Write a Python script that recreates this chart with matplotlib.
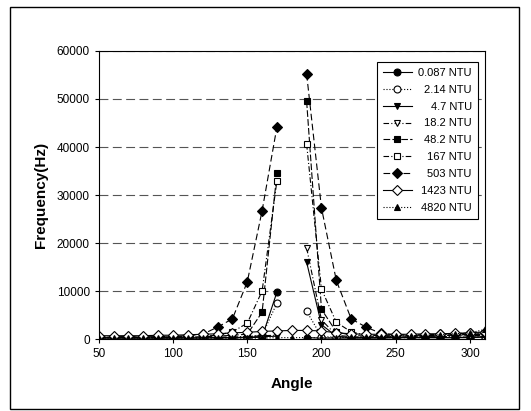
import numpy as np
import matplotlib; matplotlib.use("Agg")
import matplotlib.pyplot as plt
from matplotlib.patches import Rectangle

plt.rcParams["font.family"] = ["Liberation Sans", "DejaVu Sans"]

nan = np.nan
angle = list(range(50, 320, 10))  # 50 .. 310
# Frequency (Hz) per turbidity level; 180 deg missing for the peaked series
f_0087 = [300, 250, 250, 250, 250, 250, 250, 250, 250, 250, 300, 400, 9800, nan, 300, 200, 200, 200, 200, 200, 300, 300, 300, 300, 300, 300, 400]
f_214 = [300, 300, 300, 300, 300, 300, 300, 300, 300, 400, 500, 800, 7500, nan, 5800, 500, 400, 300, 300, 300, 300, 300, 300, 400, 400, 400, 500]
f_47 = [200, 200, 200, 200, 200, 200, 200, 200, 300, 300, 400, 500, 600, nan, 16000, 3000, 600, 300, 300, 300, 300, 300, 300, 300, 300, 400, 500]
f_182 = [300, 300, 300, 300, 300, 300, 300, 300, 400, 400, 500, 700, 800, nan, 19000, 4000, 800, 500, 400, 400, 400, 400, 500, 500, 600, 700, 800]
f_482 = [400, 400, 400, 400, 400, 400, 400, 500, 600, 800, 1000, 5600, 34500, nan, 49500, 6200, 1500, 800, 600, 600, 600, 600, 600, 700, 800, 900, 1000]
f_167 = [400, 400, 400, 400, 400, 500, 500, 600, 800, 1500, 3300, 10000, 33000, nan, 40600, 10400, 3500, 1500, 800, 700, 700, 700, 700, 800, 900, 1000, 1200]
f_503 = [500, 500, 500, 500, 500, 600, 700, 1000, 2500, 4200, 11900, 26700, 44200, nan, 55200, 27300, 12200, 4200, 2500, 1200, 900, 900, 900, 1000, 1100, 1200, 1300]
f_1423 = [700, 700, 700, 700, 800, 800, 900, 1000, 1100, 1300, 1400, 1600, 1700, 1800, 1800, 1700, 1300, 1100, 1000, 1000, 1000, 1000, 1100, 1100, 1200, 1300, 1500]
f_4820 = [200, 200, 200, 200, 200, 200, 200, 200, 200, 200, 200, 200, 300, 300, 300, 300, 300, 400, 400, 500, 600, 700, 800, 900, 1100, 1300, 2000]

labels = ["0.087 NTU", "2.14 NTU", "4.7 NTU", "18.2 NTU", "48.2 NTU",
          "167 NTU", "503 NTU", "1423 NTU", "4820 NTU"]
series = [f_0087, f_214, f_47, f_182, f_482, f_167, f_503, f_1423, f_4820]
markers = ["o", "o", "v", "v", "s", "s", "D", "D", "^"]
filled = [True, False, True, False, True, False, True, False, True]
styles = ["-", ":", "-", (0, (5, 2, 1, 2)), (0, (6, 2)), (0, (5, 2, 1, 2)),
          (0, (6, 3)), "-", ":"]

fig = plt.figure(figsize=(5.31, 4.11), dpi=100)
ax = fig.add_axes([0.186, 0.175, 0.727, 0.701])

for y, lab, m, f, ls in zip(series, labels, markers, filled, styles):
    ax.plot(angle, y, color="black", lw=0.8, linestyle=ls, marker=m,
            markersize=5 if m != "D" else 4.6, markerfacecolor="black" if f else "white",
            markeredgecolor="black", markeredgewidth=0.8, label=lab)

ax.set_xlim(50, 310)
ax.set_ylim(0, 60000)
ax.set_xticks([50, 100, 150, 200, 250, 300])
ax.set_yticks(range(0, 60001, 10000))
ax.yaxis.grid(True, color="#555555", linestyle=(0, (8, 4)), lw=0.8)
ax.set_axisbelow(True)
ax.tick_params(labelsize=8.5, length=3, width=0.8, direction="out")
for s in ax.spines.values():
    s.set_linewidth(0.8)
ax.set_xlabel("Angle", fontsize=11, fontweight="bold", labelpad=12)
ax.set_ylabel("Frequency(Hz)", fontsize=11, fontweight="bold", labelpad=6)

leg = ax.legend(loc="upper right", bbox_to_anchor=(0.982, 0.963), borderaxespad=0,
                fontsize=8, frameon=True, fancybox=False, edgecolor="black", framealpha=1,
                handlelength=2.6, labelspacing=0.62, borderpad=0.55, handletextpad=0.6)
leg.get_frame().set_linewidth(0.8)
# right-align legend labels: push each text right by its width deficit
fig.canvas.draw()
renderer = fig.canvas.get_renderer()
widths = [t.get_window_extent(renderer).width for t in leg.get_texts()]
wmax = max(widths)
for t, w in zip(leg.get_texts(), widths):
    t.set_position((wmax - w, 0))

# outer chart-area frame
fig.patches.append(Rectangle((0.019, 0.005), 0.958, 0.978, transform=fig.transFigure,
                             fill=False, edgecolor="black", lw=1.0))

fig.savefig("out.png", dpi=100)
